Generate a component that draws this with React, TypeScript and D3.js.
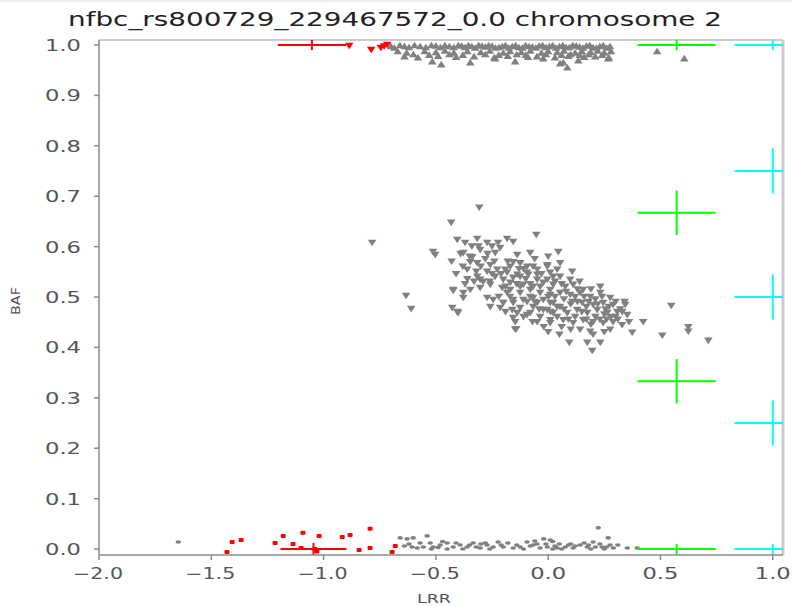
import React from "react";
import * as d3 from "d3";

// ---- Data (LRR, BAF) ----
const titleText = "nfbc_rs800729_229467572_0.0 chromosome 2";
const xTicks = [-2.0, -1.5, -1.0, -0.5, 0.0, 0.5, 1.0];
const yTicks = [0.0, 0.1, 0.2, 0.3, 0.4, 0.5, 0.6, 0.7, 0.8, 0.9, 1.0];

// heterozygous cluster (grey, downward triangles)
const hetPoints: [number, number][] = [
  [-0.307, 0.677], [-0.432, 0.647], [-0.784, 0.607], [-0.513, 0.589], [-0.503, 0.583], [-0.053, 0.623],
  [-0.633, 0.502], [-0.61, 0.476], [-0.423, 0.512], [-0.405, 0.47], [-0.142, 0.436], [0.094, 0.409],
  [0.174, 0.409], [0.232, 0.409], [0.196, 0.393], [0.423, 0.45], [0.508, 0.423], [0.548, 0.482],
  [0.624, 0.44], [0.624, 0.431], [0.713, 0.413], [0.374, 0.429],
  [-0.405, 0.613], [-0.37, 0.607], [-0.316, 0.615], [-0.272, 0.607], [-0.223, 0.607], [-0.183, 0.615], [-0.156, 0.609],
  [-0.378, 0.587], [-0.338, 0.579], [-0.303, 0.593], [-0.236, 0.587], [-0.214, 0.597], [-0.138, 0.583], [-0.08, 0.587], [0.045, 0.589],
  [-0.347, 0.569], [-0.316, 0.567], [-0.258, 0.563], [-0.227, 0.554], [-0.191, 0.554], [-0.169, 0.56], [-0.125, 0.567], [-0.094, 0.56],
  [-0.049, 0.554], [-0.004, 0.56], [0.04, 0.554],
  [-0.361, 0.554], [-0.316, 0.54], [-0.303, 0.534], [-0.272, 0.55], [-0.236, 0.54], [-0.2, 0.534], [-0.156, 0.538], [-0.125, 0.54],
  [-0.089, 0.544], [-0.049, 0.534], [-0.004, 0.534], [0.022, 0.54],
  [-0.423, 0.514], [-0.378, 0.508], [-0.347, 0.514], [-0.303, 0.518], [-0.258, 0.524], [-0.205, 0.518], [-0.169, 0.514], [-0.125, 0.52],
  [-0.08, 0.514], [-0.036, 0.52], [0.009, 0.514],
  [-0.427, 0.478], [-0.401, 0.468], [-0.378, 0.498], [-0.272, 0.498], [-0.245, 0.494], [-0.2, 0.488], [-0.156, 0.494], [-0.111, 0.494],
  [-0.067, 0.498], [-0.022, 0.494], [0.022, 0.488],
  [-0.258, 0.48], [-0.214, 0.478], [-0.16, 0.474], [-0.125, 0.478], [-0.067, 0.48], [-0.004, 0.474], [0.04, 0.48],
  [-0.156, 0.458], [-0.094, 0.464], [-0.036, 0.46], [0.009, 0.454], [-0.147, 0.435],
  [-0.156, 0.569], [-0.125, 0.567], [-0.067, 0.56], [-0.004, 0.563], [0.053, 0.567], [0.107, 0.55],
  [-0.183, 0.548], [-0.138, 0.544], [-0.094, 0.548], [-0.049, 0.544], [0.009, 0.548], [0.053, 0.54], [0.098, 0.534],
  [-0.169, 0.528], [-0.111, 0.524], [-0.067, 0.52], [-0.022, 0.528], [0.022, 0.524], [0.076, 0.52], [0.111, 0.524], [0.156, 0.514], [0.232, 0.52],
  [-0.183, 0.508], [-0.125, 0.508], [-0.08, 0.5], [-0.036, 0.508], [0.009, 0.504], [0.053, 0.508], [0.098, 0.504], [0.142, 0.508],
  [0.187, 0.5], [0.232, 0.508], [0.276, 0.498],
  [-0.2, 0.488], [-0.156, 0.488], [-0.094, 0.49], [-0.049, 0.488], [0.009, 0.488], [0.053, 0.48], [0.107, 0.49], [0.151, 0.488],
  [0.2, 0.484], [0.245, 0.488], [0.289, 0.484], [0.343, 0.484],
  [-0.138, 0.468], [-0.08, 0.468], [-0.022, 0.474], [0.022, 0.468], [0.085, 0.468], [0.129, 0.474], [0.174, 0.468], [0.218, 0.474],
  [0.263, 0.468], [0.307, 0.47], [0.352, 0.464],
  [-0.147, 0.45], [-0.049, 0.45], [0.009, 0.448], [0.067, 0.454], [0.111, 0.448], [0.156, 0.454], [0.2, 0.45], [0.245, 0.448],
  [0.289, 0.45], [0.329, 0.444],
  [0.142, 0.435], [0.187, 0.431], [0.276, 0.435],
  [-0.3, 0.56], [-0.28, 0.575], [-0.25, 0.545], [-0.18, 0.57], [-0.11, 0.555], [-0.06, 0.575], [0.0, 0.58], [0.03, 0.5],
  [0.07, 0.495], [0.12, 0.5], [0.17, 0.48], [0.21, 0.46], [0.26, 0.455], [0.3, 0.46], [0.12, 0.46], [0.06, 0.44],
  [-0.02, 0.44], [-0.33, 0.53], [-0.37, 0.525], [-0.41, 0.545], [-0.43, 0.57], [-0.34, 0.6], [-0.26, 0.53], [0.14, 0.53],
  [0.19, 0.515], [0.255, 0.475], [0.32, 0.475], [0.36, 0.45],
  [-0.35, 0.58], [-0.32, 0.55], [-0.29, 0.53], [-0.27, 0.585], [-0.24, 0.57], [-0.21, 0.545], [-0.19, 0.52], [-0.17, 0.5],
  [-0.14, 0.525], [-0.13, 0.555], [-0.1, 0.535], [-0.08, 0.525], [-0.06, 0.49], [-0.04, 0.475], [-0.03, 0.545], [0.0, 0.5],
  [0.01, 0.47], [0.03, 0.53], [0.04, 0.46], [0.06, 0.525], [0.07, 0.475], [0.08, 0.51], [0.09, 0.455], [0.1, 0.485],
  [0.13, 0.515], [0.13, 0.49], [0.15, 0.47], [0.16, 0.5], [0.17, 0.455], [0.18, 0.49], [0.19, 0.445], [0.21, 0.495],
  [0.22, 0.485], [0.23, 0.455], [0.24, 0.5], [0.25, 0.465], [0.27, 0.48], [0.28, 0.46], [0.3, 0.49], [0.31, 0.455],
  [0.33, 0.47], [0.34, 0.49], [-0.22, 0.5], [-0.19, 0.47], [-0.11, 0.46], [-0.07, 0.45], [0.0, 0.43], [0.05, 0.425],
  [0.1, 0.435], [0.2, 0.425], [0.25, 0.43], [-0.38, 0.56], [-0.36, 0.535], [-0.39, 0.585], [-0.31, 0.6], [-0.25, 0.6],
];

// BB cluster near BAF 1 (grey, upward triangles)
const bbPoints: [number, number][] = [
  [-0.7, 0.998], [-0.66, 1.0], [-0.62, 0.996], [-0.57, 0.998], [-0.52, 1.0], [-0.48, 0.996], [-0.44, 0.998], [-0.4, 1.0],
  [-0.37, 0.996], [-0.34, 0.998], [-0.31, 1.0], [-0.28, 0.997], [-0.25, 0.999], [-0.22, 0.996], [-0.19, 1.0], [-0.16, 0.998],
  [-0.13, 0.996], [-0.1, 1.0], [-0.07, 0.997], [-0.04, 0.999], [-0.01, 0.996], [0.02, 1.0], [0.05, 0.998], [0.08, 0.996],
  [0.11, 1.0], [0.14, 0.997], [0.17, 0.999], [0.2, 0.996], [0.23, 0.998], [0.26, 0.995],
  [-0.685, 0.995], [-0.64, 0.998], [-0.595, 1.0], [-0.545, 0.996], [-0.5, 0.999], [-0.46, 1.0], [-0.42, 0.996], [-0.385, 0.999],
  [-0.355, 1.0], [-0.325, 0.995], [-0.295, 0.999], [-0.265, 1.0], [-0.235, 0.995], [-0.205, 0.998], [-0.175, 0.995], [-0.145, 1.0],
  [-0.115, 0.995], [-0.085, 0.998], [-0.055, 0.995], [-0.025, 1.0], [0.005, 0.998], [0.035, 0.995], [0.065, 1.0], [0.095, 0.996],
  [0.125, 0.999], [0.155, 0.995], [0.185, 1.0], [0.215, 0.995], [0.245, 1.0], [0.275, 0.998],
  [-0.67, 0.988], [-0.63, 0.985], [-0.55, 0.988], [-0.5, 0.986], [-0.46, 0.989], [-0.42, 0.985], [-0.36, 0.988], [-0.3, 0.986],
  [-0.26, 0.989], [-0.2, 0.985], [-0.17, 0.988], [-0.12, 0.986], [-0.08, 0.989], [-0.03, 0.985], [0.0, 0.988], [0.04, 0.986],
  [0.07, 0.989], [0.12, 0.985], [0.15, 0.988], [0.19, 0.986], [0.22, 0.989], [0.25, 0.985], [0.28, 0.988],
  [-0.6, 0.982], [-0.53, 0.981], [-0.44, 0.982], [-0.38, 0.981], [-0.28, 0.982], [-0.22, 0.981], [-0.14, 0.982], [-0.1, 0.981],
  [-0.01, 0.982], [0.06, 0.981], [0.1, 0.982], [0.14, 0.981], [0.18, 0.982], [0.24, 0.981],
  [-0.64, 0.978], [-0.58, 0.976], [-0.49, 0.979], [-0.41, 0.977], [-0.33, 0.978], [-0.24, 0.976], [-0.18, 0.979], [-0.09, 0.977],
  [-0.05, 0.978], [0.03, 0.976], [0.09, 0.979], [0.16, 0.977], [0.21, 0.978], [0.27, 0.976],
  [-0.516, 0.968], [-0.476, 0.962], [-0.347, 0.966], [-0.236, 0.974], [-0.147, 0.968], [-0.022, 0.974], [0.053, 0.964],
  [0.085, 0.956], [0.067, 0.966], [0.134, 0.97], [0.267, 0.974], [0.485, 0.988], [0.606, 0.974],
];

// AA cluster near BAF 0 (grey, small marks)
const aaPoints: [number, number][] = [
  [-0.659, 0.022], [-0.628, 0.02], [-0.601, 0.022], [-0.539, 0.026], [-0.606, 0.004], [-0.583, 0.002], [-0.556, 0.004],
  [-0.525, 0.012], [-0.512, 0.004], [-0.481, 0.008], [-0.45, 0.012], [-0.423, 0.004], [-0.392, 0.008], [-0.361, 0.004],
  [-0.334, 0.012], [-0.303, 0.002], [-0.272, 0.008], [-0.245, 0.004], [-0.223, 0.014], [-0.2, 0.004], [-0.156, 0.002],
  [-0.125, 0.004], [-0.094, 0.014], [-0.067, 0.008], [-0.036, 0.002], [-0.004, 0.004], [0.009, 0.018], [0.04, 0.002],
  [0.076, 0.004], [0.111, 0.002], [0.142, 0.008], [0.174, 0.004], [0.2, 0.014], [0.223, 0.042], [0.24, 0.004],
  [0.276, 0.008], [0.267, 0.022], [0.352, 0.002], [0.396, 0.002], [-1.647, 0.014],
  [-0.52, 0.0], [-0.45, 0.0], [-0.38, 0.0], [-0.3, 0.01], [-0.05, 0.01], [0.02, 0.0], [0.05, 0.01], [0.1, 0.01],
  [0.19, 0.0], [0.25, 0.0], [-0.02, 0.02], [0.02, 0.015],
  [-0.64, 0.006], [-0.62, 0.01], [-0.57, 0.012], [-0.49, 0.003], [-0.47, 0.015], [-0.41, 0.012], [-0.35, 0.008], [-0.32, 0.004],
  [-0.28, 0.012], [-0.26, 0.0], [-0.21, 0.008], [-0.18, 0.012], [-0.14, 0.008], [-0.11, 0.0], [-0.08, 0.006], [-0.06, 0.016],
  [-0.01, 0.01], [0.03, 0.006], [0.06, 0.0], [0.09, 0.008], [0.12, 0.006], [0.16, 0.012], [0.18, 0.008], [0.21, 0.004],
  [0.23, 0.01], [0.26, 0.004], [0.29, 0.002], [0.31, 0.008],
];

// red outliers
const redTop: [number, number][] = [
  [-0.886, 0.998], [-0.788, 0.99], [-0.745, 0.994], [-0.73, 0.997], [-0.717, 1.0],
];
const redBottom: [number, number][] = [
  [-1.43, -0.006], [-1.407, 0.014], [-1.367, 0.018], [-1.216, 0.012], [-1.18, 0.026], [-1.136, 0.01], [-1.092, 0.032],
  [-1.1, 0.002], [-1.02, 0.026], [-1.039, 0.0], [-1.03, -0.005], [-0.917, 0.024], [-0.882, 0.028], [-0.842, -0.002],
  [-0.793, 0.04], [-0.793, 0.002], [-0.681, 0.006], [-0.695, -0.006],
];

// cluster centres: [lrr, baf, lrrSd, bafSd]
const redCenters: [number, number, number, number][] = [
  [-1.052, 1.0, 0.152, 0.01],
  [-1.045, 0.0, 0.147, 0.012],
];
const greenCenters: [number, number, number, number][] = [
  [0.572, 1.0, 0.174, 0.01],
  [0.572, 0.667, 0.174, 0.044],
  [0.572, 0.333, 0.174, 0.044],
  [0.572, 0.0, 0.174, 0.01],
];
const cyanCenters: [number, number, number, number][] = [
  [1.0, 1.0, 0.17, 0.01],
  [1.0, 0.75, 0.17, 0.045],
  [1.0, 0.5, 0.17, 0.045],
  [1.0, 0.25, 0.17, 0.045],
  [1.0, 0.0, 0.17, 0.01],
];

const W = 792;
const H = 606;
const left = 99;
const right = 783;
const top = 40;
const bottom = 555;

export default function App() {
  const x = d3.scaleLinear().domain([-2, 1.0455]).range([left, right]);
  const y = d3.scaleLinear().domain([0, 1]).range([549, 45]);
  const grey = "#808080";
  const axisGrey = "#8a8a8a";
  const labelGrey = "#555555";

  const down = (cx: number, cy: number, w = 4.3, h = 3.3) =>
    `M${cx - w},${cy - h}L${cx + w},${cy - h}L${cx},${cy + h}Z`;
  const up = (cx: number, cy: number, w = 4.3, h = 3.3) =>
    `M${cx - w},${cy + h}L${cx + w},${cy + h}L${cx},${cy - h}Z`;

  const cross = (c: [number, number, number, number], color: string, i: number) => {
    const [lx, b, sx, sy] = c;
    return (
      <g key={color + i} stroke={color} strokeWidth={2}>
        <line x1={x(lx - sx)} x2={x(lx + sx)} y1={y(b)} y2={y(b)} />
        <line x1={x(lx)} x2={x(lx)} y1={y(b - sy)} y2={y(b + sy)} />
      </g>
    );
  };

  return (
    <svg
      width={W}
      height={H}
      style={{ position: "absolute", left: 0, top: 0, background: "#fff" }}
      fontFamily="'DejaVu Sans', sans-serif"
    >
      <defs>
        <clipPath id="plotClip">
          <rect x={left} y={top} width={right - left} height={bottom - top} />
        </clipPath>
      </defs>
      <rect x={0} y={0} width={W} height={H} fill="#fff" />
      <line x1={0} x2={W} y1={1} y2={1} stroke="#eeeeee" strokeWidth={2} />

      {/* title */}
      <text x={68} y={26} fontSize={20} fill="#222" textLength={654} lengthAdjust="spacingAndGlyphs">
        {titleText}
      </text>

      {/* frame */}
      <line x1={left} x2={right} y1={top} y2={top} stroke="#cccccc" strokeWidth={2} />
      <line x1={right} x2={right} y1={top} y2={bottom} stroke="#cccccc" strokeWidth={3} />

      <g clipPath="url(#plotClip)">
        {aaPoints.map((p, i) => (
          <ellipse key={"aa" + i} cx={x(p[0])} cy={y(p[1])} rx={2.8} ry={1.8} fill={grey} />
        ))}
        {bbPoints.map((p, i) => (
          <path key={"bb" + i} d={up(x(p[0]), y(p[1]))} fill={grey} />
        ))}
        {hetPoints.map((p, i) => (
          <path key={"ab" + i} d={down(x(p[0]), y(p[1]))} fill={grey} />
        ))}
        {redTop.map((p, i) => (
          <path key={"rt" + i} d={down(x(p[0]), y(p[1]))} fill="#ff0000" />
        ))}
        {redBottom.map((p, i) => (
          <rect key={"rb" + i} x={x(p[0]) - 2.5} y={y(p[1]) - 2} width={5} height={4} rx={1} fill="#ff0000" />
        ))}
        {redCenters.map((c, i) => cross(c, "#ff0000", i))}
        {greenCenters.map((c, i) => cross(c, "#00ff00", i))}
        {cyanCenters.map((c, i) => cross(c, "#00ffff", i))}
      </g>

      {/* axes */}
      <line x1={left} x2={left} y1={top} y2={bottom} stroke={axisGrey} strokeWidth={1.5} />
      <line x1={left} x2={right} y1={bottom} y2={bottom} stroke={axisGrey} strokeWidth={1.5} />

      {yTicks.map((t) => (
        <g key={"yt" + t}>
          <line x1={left - 5} x2={left} y1={y(t)} y2={y(t)} stroke={axisGrey} strokeWidth={1.5} />
          <text
            x={81}
            y={y(t) + 6}
            fontSize={15}
            fill={labelGrey}
            textAnchor="end"
            textLength={36}
            lengthAdjust="spacingAndGlyphs"
          >
            {d3.format(".1f")(t)}
          </text>
        </g>
      ))}

      {xTicks.map((t) => {
        const lbl = d3.format(".1f")(t).replace("-", "\u2212");
        const neg = t < 0;
        return (
          <g key={"xt" + t}>
            <line x1={x(t)} x2={x(t)} y1={bottom} y2={bottom + 5} stroke={axisGrey} strokeWidth={1.5} />
            <text
              x={x(t) - (neg ? 26 : 18)}
              y={579}
              fontSize={15}
              fill={labelGrey}
              textLength={neg ? 50 : 36}
              lengthAdjust="spacingAndGlyphs"
            >
              {lbl}
            </text>
          </g>
        );
      })}

      {/* axis labels */}
      <text x={417} y={603} fontSize={13} fill={labelGrey} textLength={34} lengthAdjust="spacingAndGlyphs">
        LRR
      </text>
      <text
        transform="translate(20,301) rotate(-90)"
        fontSize={13}
        fill={labelGrey}
        textAnchor="middle"
        textLength={28}
        lengthAdjust="spacingAndGlyphs"
      >
        BAF
      </text>
    </svg>
  );
}
